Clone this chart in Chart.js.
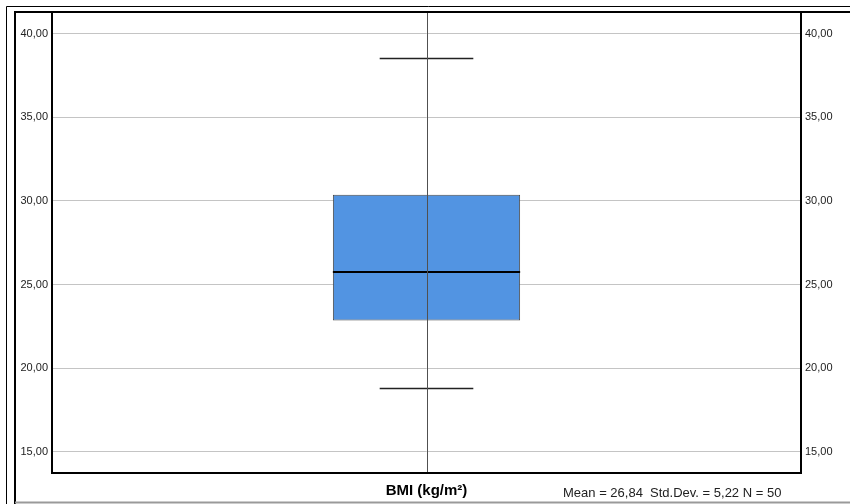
<!DOCTYPE html>
<html>
<head>
<meta charset="utf-8">
<script src="https://cdn.jsdelivr.net/npm/chart.js@4.4.1/dist/chart.umd.min.js"></script>
<style>
  html, body { margin: 0; padding: 0; background: #fff; }
  canvas { display: block; }
</style>
</head>
<body>
<canvas id="c" width="850" height="504"></canvas>
<script>
// Box plot summary for BMI
const categories = ['BMI (kg/m²)'];
const whiskerLow = [18.83];
const q1 = [22.85];
const medians = [25.78];
const q3 = [30.37];
const whiskerHigh = [38.56];

// Axis
const yTicks = [15, 20, 25, 30, 35, 40];
const yMin = 13.73;
const yMax = 41.30;

// Summary statistics printed under the plot
const meanValue = 26.84;
const stdDev = 5.22;
const sampleSize = 50;

const fmt = v => v.toFixed(2).replace('.', ',');

const boxExtras = {
  id: 'boxExtras',
  afterDatasetsDraw(chart) {
    const ctx = chart.ctx;
    const y = chart.scales.y;
    const a = chart.chartArea;
    const meta = chart.getDatasetMeta(0);
    ctx.save();
    ctx.beginPath();
    ctx.rect(a.left, a.top, a.right - a.left, a.bottom - a.top);
    ctx.clip();
    meta.data.forEach((bar, i) => {
      const half = bar.width / 2;
      // median
      ctx.strokeStyle = '#000';
      ctx.lineWidth = 2;
      ctx.beginPath();
      const ym = Math.round(y.getPixelForValue(medians[i]));
      ctx.moveTo(bar.x - half, ym);
      ctx.lineTo(bar.x + half, ym);
      ctx.stroke();
      // whisker caps
      ctx.strokeStyle = '#222';
      ctx.lineWidth = 1.5;
      [whiskerLow[i], whiskerHigh[i]].forEach(v => {
        const yp = Math.round(y.getPixelForValue(v)) + 0.5;
        ctx.beginPath();
        ctx.moveTo(bar.x - half / 2, yp);
        ctx.lineTo(bar.x + half / 2, yp);
        ctx.stroke();
      });
      // category line through the box
      const xs = Math.round(chart.scales.x.getPixelForValue(i)) + 0.5;
      ctx.strokeStyle = '#505050';
      ctx.lineWidth = 1;
      ctx.beginPath();
      ctx.moveTo(xs, a.top);
      ctx.lineTo(xs, a.bottom);
      ctx.stroke();
    });
    ctx.restore();
  },
  afterDraw(chart) {
    const ctx = chart.ctx;
    const a = chart.chartArea;
    const W = chart.width, H = chart.height;
    ctx.save();
    // outer frame
    ctx.strokeStyle = '#000';
    ctx.lineWidth = 1;
    ctx.beginPath();
    ctx.moveTo(W, 6.5); ctx.lineTo(6.5, 6.5); ctx.lineTo(6.5, H);
    ctx.stroke();
    ctx.lineWidth = 2;
    ctx.beginPath();
    ctx.moveTo(W, 12); ctx.lineTo(15, 12); ctx.lineTo(15, H);
    ctx.stroke();
    ctx.strokeStyle = '#9a9a9a';
    ctx.beginPath();
    ctx.moveTo(15, H - 1.5); ctx.lineTo(W, H - 1.5);
    ctx.stroke();
    // plot frame
    ctx.strokeStyle = '#000';
    ctx.lineWidth = 2;
    ctx.strokeRect(a.left, a.top, a.right - a.left, a.bottom - a.top);
    // statistics
    ctx.fillStyle = '#222';
    ctx.font = '13px "Liberation Sans", Arial, sans-serif';
    ctx.textBaseline = 'middle';
    ctx.textAlign = 'left';
    ctx.fillText('Mean = ' + fmt(meanValue) + '  Std.Dev. = ' + fmt(stdDev) + ' N = ' + sampleSize, 563, 493);
    ctx.restore();
  }
};

const yTickCfg = {
  color: '#222',
  font: { family: '"Liberation Sans", Arial, sans-serif', size: 11 },
  padding: 4,
  callback: v => fmt(v)
};

new Chart(document.getElementById('c'), {
  type: 'bar',
  data: {
    labels: categories,
    datasets: [{
      data: categories.map((c, i) => [q1[i], q3[i]]),
      backgroundColor: '#5294e2',
      borderColor: '#4a4a4a',
      borderWidth: 1,
      borderSkipped: false,
      barPercentage: 0.25,
      categoryPercentage: 1
    }]
  },
  options: {
    responsive: false,
    animation: false,
    events: [],
    layout: { padding: { top: 12, left: 16, right: 0, bottom: 0 } },
    plugins: { legend: { display: false }, tooltip: { enabled: false } },
    scales: {
      x: {
        grid: { display: false, drawTicks: false },
        border: { display: false },
        ticks: {
          color: '#000',
          font: { family: '"Liberation Sans", Arial, sans-serif', size: 15, weight: 'bold' },
          padding: 9,
          maxRotation: 0
        },
        afterFit: s => { s.height = 31; }
      },
      y: {
        position: 'left',
        min: yMin, max: yMax,
        grid: { color: '#c4c4c4', lineWidth: 1, drawTicks: false },
        border: { display: false },
        ticks: yTickCfg,
        afterBuildTicks: s => { s.ticks = yTicks.map(v => ({ value: v })); },
        afterFit: s => { s.width = 36; }
      },
      y2: {
        position: 'right',
        min: yMin, max: yMax,
        grid: { display: false, drawTicks: false },
        border: { display: false },
        ticks: yTickCfg,
        afterBuildTicks: s => { s.ticks = yTicks.map(v => ({ value: v })); },
        afterFit: s => { s.width = 49; }
      }
    }
  },
  plugins: [boxExtras]
});
</script>
</body>
</html>
